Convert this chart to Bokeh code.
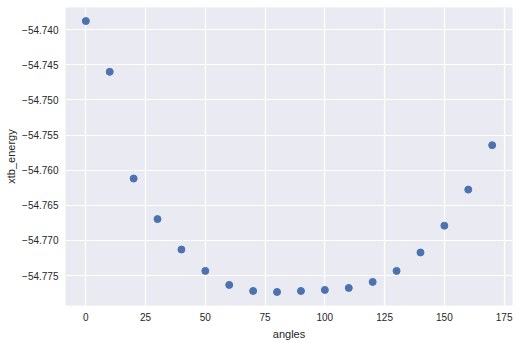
from bokeh.plotting import figure
from bokeh.models import FixedTicker, CustomJSTickFormatter, Range1d, ColumnDataSource
from bokeh.embed import file_html
from bokeh.resources import INLINE

angles = [0, 10, 20, 30, 40, 50, 60, 70, 80, 90, 100, 110, 120, 130, 140, 150, 160, 170]
xtb_energy = [-54.73877, -54.74600, -54.76119, -54.76696, -54.77129, -54.77433,
              -54.77633, -54.77719, -54.77733, -54.77719, -54.77704, -54.77676,
              -54.77590, -54.77433, -54.77171, -54.76790, -54.76276, -54.75644]
x_ticks = [0, 25, 50, 75, 100, 125, 150, 175]
y_ticks = [-54.740, -54.745, -54.750, -54.755, -54.760, -54.765, -54.770, -54.775]

src = ColumnDataSource(dict(x=angles, y=xtb_energy))

xmin, xmax = min(angles), max(angles)
ymin, ymax = min(xtb_energy), max(xtb_energy)
xm = (xmax - xmin) * 0.05
ym = (ymax - ymin) * 0.05

p = figure(width=518, height=343, output_backend="svg", toolbar_location=None,
           x_range=Range1d(xmin - xm, xmax + xm), y_range=Range1d(ymin - ym, ymax + ym),
           min_border_left=65, min_border_right=6, min_border_top=7, min_border_bottom=38)

p.background_fill_color = "#EAEAF2"
p.border_fill_color = "white"
p.outline_line_color = None

p.scatter("x", "y", source=src, size=7, fill_color="#4C72B0", line_color="#4C72B0")

p.xaxis.ticker = FixedTicker(ticks=x_ticks)
p.yaxis.ticker = FixedTicker(ticks=y_ticks)
p.yaxis.formatter = CustomJSTickFormatter(code="return (tick < 0 ? '\\u2212' : '') + Math.abs(tick).toFixed(3);")
p.xaxis.formatter = CustomJSTickFormatter(code="return tick.toFixed(0);")

for ax in (p.xaxis, p.yaxis):
    ax.axis_line_color = None
    ax.major_tick_line_color = None
    ax.minor_tick_line_color = None
    ax.major_tick_out = 0
    ax.major_tick_in = 0
    ax.major_label_text_font = "Liberation Sans"
    ax.major_label_text_font_size = "10px"
    ax.major_label_text_color = "#262626"
    ax.axis_label_text_font = "Liberation Sans"
    ax.axis_label_text_font_size = "11px"
    ax.axis_label_text_color = "#262626"
    ax.axis_label_text_font_style = "normal"
    ax.major_label_standoff = 7

p.xaxis.axis_label = "angles"
p.yaxis.axis_label = "xtb_energy"
p.xaxis.axis_label_standoff = 4
p.yaxis.axis_label_standoff = 2

p.xgrid.grid_line_color = "white"
p.ygrid.grid_line_color = "white"
p.xgrid.grid_line_width = 1.2
p.ygrid.grid_line_width = 1.2

open("out.html", "w").write(file_html(p, INLINE))
